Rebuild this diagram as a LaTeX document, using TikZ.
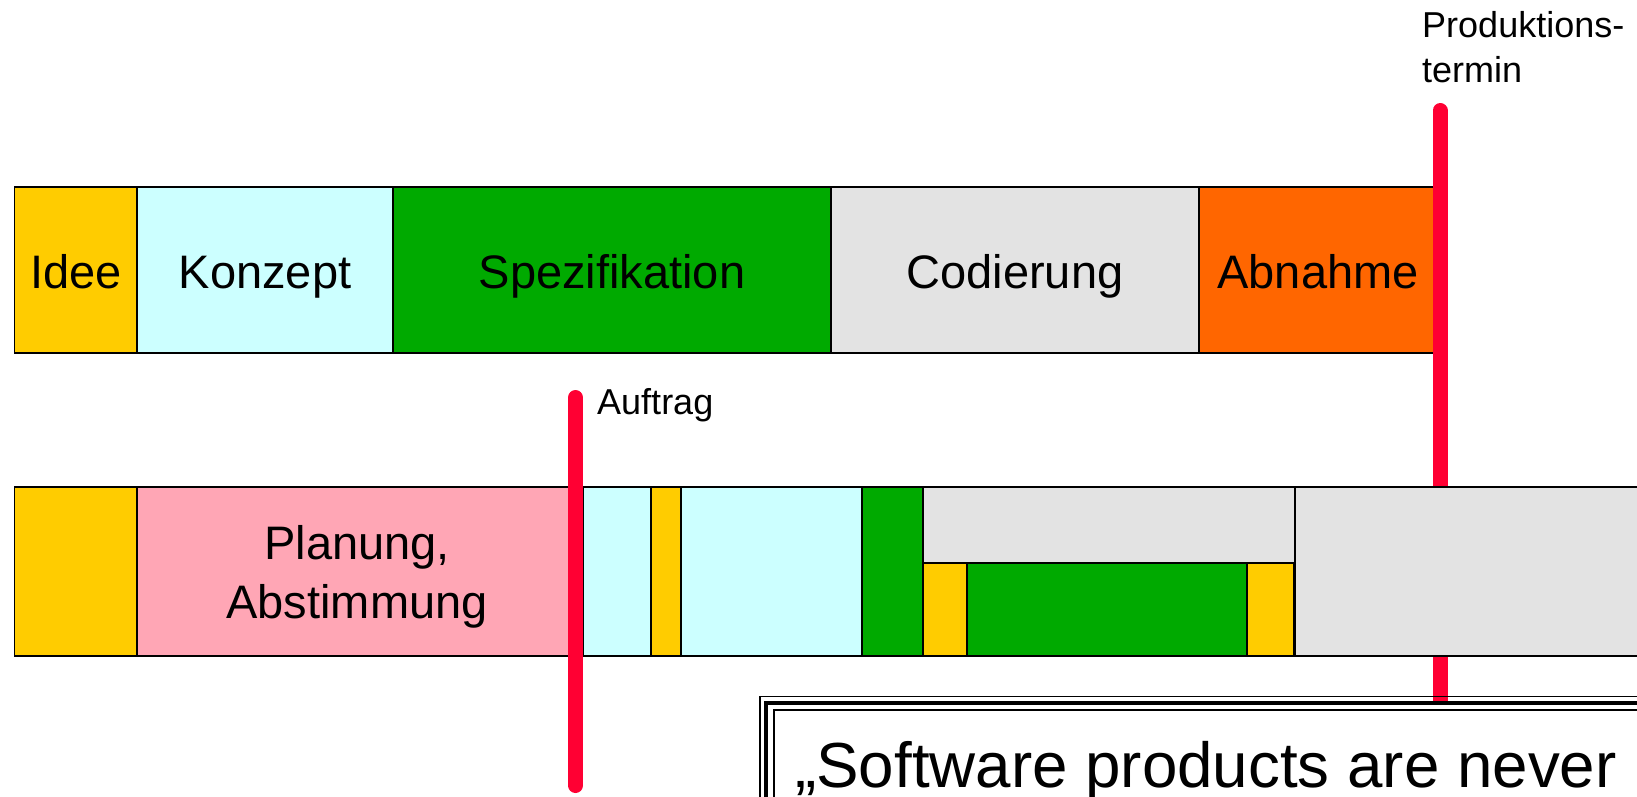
\documentclass[tikz,border=0pt]{standalone}
\usepackage{fontspec}
\setmainfont{Liberation Sans}
\definecolor{cyel}{HTML}{FFCC00}
\definecolor{ccyan}{HTML}{CCFFFF}
\definecolor{cgreen}{HTML}{00AA00}
\definecolor{cgray}{HTML}{E3E3E3}
\definecolor{corange}{HTML}{FF6600}
\definecolor{cpink}{HTML}{FFA6B5}
\definecolor{cred}{HTML}{FF0033}
\begin{document}
\begin{tikzpicture}[x=1pt,y=-1pt,
  box/.style={draw=black, line width=1.5pt, inner sep=0pt, outer sep=0pt, anchor=north west},
  biglbl/.style={font=\fontsize{47}{56}\selectfont, inner sep=0pt, anchor=base},
  smalllbl/.style={font=\fontsize{36}{43}\selectfont, inner sep=0pt, anchor=base west},
  quotelbl/.style={font=\fontsize{63.7}{75}\selectfont, inner sep=0pt, anchor=base west},
  redline/.style={line width=15pt, draw=cred, line cap=round}]
\useasboundingbox (0,0) rectangle (1637,796);
\clip (0,0) rectangle (1637,796);
% top row
\node[box, fill=cyel,    minimum width=122.5pt, minimum height=166pt] (idee) at (14.5,187) {};
\node[box, fill=ccyan,   minimum width=256pt,   minimum height=166pt] (konz) at (137,187) {};
\node[box, fill=cgreen,  minimum width=438pt,   minimum height=166pt] (spez) at (393,187) {};
\node[box, fill=cgray,   minimum width=368pt,   minimum height=166pt] (cod)  at (831,187) {};
\node[box, fill=corange, minimum width=241pt,   minimum height=166pt] (abn)  at (1199,187) {};
\node[biglbl] (tidee) at (75.75,288) {Idee};
\node[biglbl] (tkonz) at (265,288) {Konzept};
\node[biglbl] (tspez) at (612,288) {Spezifikation};
\node[biglbl] (tcod)  at (1015,288) {Codierung};
\node[biglbl] (tabn)  at (1318,288) {Abnahme};
% Produktionstermin
\coordinate (p1) at (1440,110.5);
\coordinate (p2) at (1440,702);
\draw[redline] (p1) -- (p2);
\node[smalllbl] (tprod1) at (1422,37) {Produktions-};
\node[smalllbl] (tprod2) at (1422,82) {termin};
% second row
\node[box, fill=cyel,   minimum width=122.5pt, minimum height=169pt] (b1) at (14.5,487) {};
\node[box, fill=cpink,  minimum width=446pt,   minimum height=169pt] (b2) at (137,487) {};
\node[box, fill=ccyan,  minimum width=68pt,    minimum height=169pt] (b3) at (583,487) {};
\node[box, fill=cyel,   minimum width=30pt,    minimum height=169pt] (b4) at (651,487) {};
\node[box, fill=ccyan,  minimum width=181pt,   minimum height=169pt] (b5) at (681,487) {};
\node[box, fill=cgreen, minimum width=61pt,    minimum height=169pt] (b6) at (862,487) {};
\node[box, fill=cgray,  minimum width=372pt,   minimum height=76pt]  (b7) at (923,487) {};
\node[box, fill=cyel,   minimum width=44pt,    minimum height=93pt]  (b8) at (923,563) {};
\node[box, fill=cgreen, minimum width=280pt,   minimum height=93pt]  (b9) at (967,563) {};
\node[box, fill=cyel,   minimum width=47pt,    minimum height=93pt]  (b10) at (1247,563) {};
\node[box, fill=cgray,  minimum width=405pt,   minimum height=169pt] (b11) at (1295,487) {};
\node[biglbl] (tplan1) at (357,559) {Planung,};
\node[biglbl] (tplan2) at (357,618) {Abstimmung};
% Auftrag
\coordinate (a1) at (575.5,397.5);
\coordinate (a2) at (575.5,785.5);
\draw[redline] (a1) -- (a2);
\node[smalllbl] (tauf) at (597,414) {Auftrag};
% quote box
\node[draw=black, fill=white, line width=3.5pt, inner sep=0pt, outer sep=0pt, anchor=north west, minimum width=950pt, minimum height=200pt] (qmid) at (766,703) {};
\node[draw=black, line width=1.5pt, inner sep=0pt, outer sep=0pt, anchor=north west, minimum width=960pt, minimum height=210pt] (qout) at (760,696.5) {};
\node[draw=black, line width=1.5pt, inner sep=0pt, outer sep=0pt, anchor=north west, minimum width=940pt, minimum height=190pt] (qin) at (774,710) {};
\node[quotelbl] (tquote) at (795,787) {„Software products are never};
\end{tikzpicture}
\end{document}
